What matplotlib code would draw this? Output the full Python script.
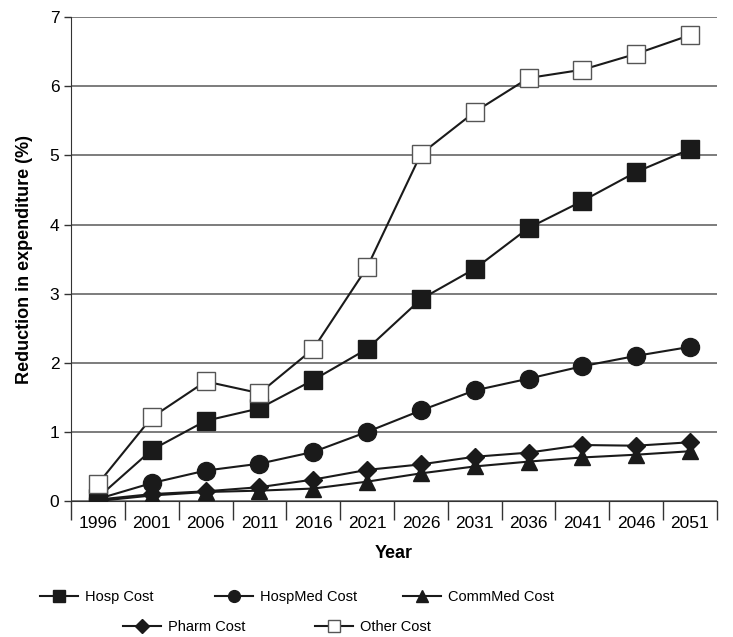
import numpy as np
import matplotlib.pyplot as plt
from matplotlib.lines import Line2D

plt.rcParams['font.family'] = ['Liberation Sans', 'DejaVu Sans']

years = ['1996', '2001', '2006', '2011', '2016', '2021', '2026', '2031', '2036', '2041', '2046', '2051']
hosp = [0.05, 0.74, 1.16, 1.34, 1.75, 2.20, 2.92, 3.36, 3.95, 4.34, 4.76, 5.09]
hospmed = [0.03, 0.26, 0.44, 0.54, 0.71, 1.00, 1.31, 1.60, 1.77, 1.95, 2.10, 2.23]
commmed = [0.00, 0.08, 0.13, 0.15, 0.18, 0.28, 0.40, 0.50, 0.57, 0.63, 0.67, 0.72]
pharm = [0.02, 0.10, 0.14, 0.20, 0.31, 0.45, 0.53, 0.64, 0.70, 0.81, 0.80, 0.85]
other = [0.25, 1.21, 1.73, 1.56, 2.20, 3.38, 5.02, 5.63, 6.12, 6.24, 6.47, 6.74]

x = np.arange(len(years))

fig = plt.figure(figsize=(7.33, 6.37), dpi=100)
ax = fig.add_axes([0.097, 0.2135, 0.881, 0.7595])

lw = 1.5
ax.plot(x, commmed, color='#1a1a1a', lw=lw, marker='^', ms=12, mfc='#1a1a1a', mec='#1a1a1a', zorder=3)
ax.plot(x, pharm, color='#1a1a1a', lw=lw, marker='D', ms=9, mfc='#1a1a1a', mec='#1a1a1a', zorder=3)
ax.plot(x, hospmed, color='#1a1a1a', lw=lw, marker='o', ms=13, mfc='#1a1a1a', mec='#1a1a1a', zorder=3)
ax.plot(x, hosp, color='#1a1a1a', lw=lw, marker='s', ms=12.5, mfc='#1a1a1a', mec='#1a1a1a', zorder=3)
ax.plot(x, other, color='#1a1a1a', lw=lw, marker='s', ms=12.5, mfc='white', mec='#555555', mew=1.0, zorder=4)

ax.set_xlim(-0.5, len(years) - 0.5)
ax.set_ylim(0, 7)
ax.set_yticks(range(0, 8))
ax.set_xticks(x)
ax.set_xticklabels(years, fontsize=12.5)
ax.set_xticks(np.arange(-0.5, len(years)), minor=True)
ax.tick_params(axis='x', which='major', length=0, pad=11)
ax.tick_params(axis='x', which='minor', length=14, width=1, color='#333333', direction='out')
ax.tick_params(axis='y', length=5, width=1, labelsize=12.5, color='#333333')
ax.yaxis.grid(True, color='#666666', lw=1.2)
ax.set_axisbelow(True)
for s in ['top', 'right']:
    ax.spines[s].set_visible(False)
ax.spines['left'].set_color('#333333')
ax.spines['bottom'].set_color('#333333')

ax.set_xlabel('Year', fontsize=13, fontweight='bold', labelpad=10)
ax.set_ylabel('Reduction in expenditure (%)', fontsize=13, fontweight='bold', labelpad=12)

def handle(marker, ms, fc):
    return Line2D([], [], color='#1a1a1a', lw=lw, marker=marker, ms=ms, mfc=fc,
                  mec='#1a1a1a' if fc != 'white' else '#555555')

entries = [
    (handle('s', 8.5, '#1a1a1a'), 'Hosp Cost', 40, 597),
    (handle('o', 8.5, '#1a1a1a'), 'HospMed Cost', 215, 597),
    (handle('^', 8.5, '#1a1a1a'), 'CommMed Cost', 403, 597),
    (handle('D', 7, '#1a1a1a'), 'Pharm Cost', 123, 627),
    (handle('s', 8.5, 'white'), 'Other Cost', 315, 627),
]
for h, lab, px, py in entries:
    lg = fig.legend([h], [lab], loc='center left', bbox_to_anchor=(px / 733, 1 - py / 637),
                    frameon=False, fontsize=10.5, handlelength=2.6, handletextpad=0.5,
                    borderpad=0, borderaxespad=0)

fig.savefig('out.png', dpi=100)
